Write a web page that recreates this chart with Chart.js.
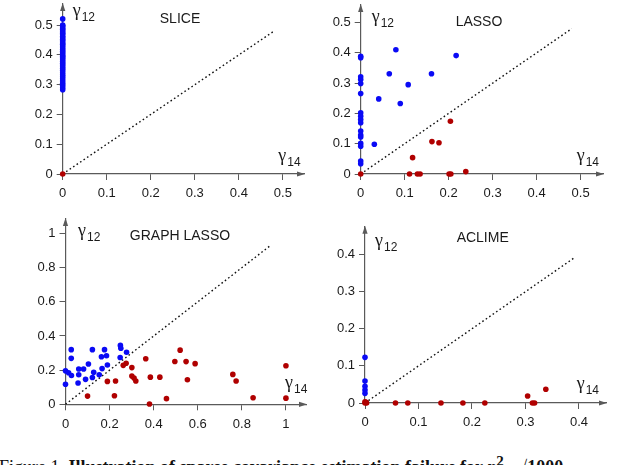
<!DOCTYPE html>
<html>
<head>
<meta charset="utf-8">
<script src="https://cdn.jsdelivr.net/npm/chart.js@4.4.1/dist/chart.umd.min.js"></script>
<style>
  html, body { margin: 0; padding: 0; background: #fff; width: 640px; height: 465px; overflow: hidden; }
  body { position: relative; }
  canvas { position: absolute; }
  #cap { position: absolute; left: -1px; top: 453px; white-space: nowrap; font: 18px "Liberation Serif"; color: #111; }
</style>
</head>
<body>
<canvas id="c1" width="320" height="215" style="left:0;top:0"></canvas>
<canvas id="c2" width="320" height="215" style="left:320px;top:0"></canvas>
<canvas id="c3" width="320" height="225" style="left:0;top:215px"></canvas>
<canvas id="c4" width="320" height="225" style="left:320px;top:215px"></canvas>
<div id="cap">Figure 1. <b>Illustration of sparse covariance estimation failure for <i>p</i><sup>2</sup> &nbsp; √1000</b></div>
<script>
// ── data: (gamma14, gamma12) pairs ──────────────────────────────────
const sliceBlueY = [0.521, 0.50, 0.497, 0.49, 0.486, 0.48, 0.474, 0.47, 0.463, 0.458, 0.452,
  0.447, 0.44, 0.436, 0.43, 0.424, 0.418, 0.412, 0.406, 0.40, 0.395, 0.39, 0.384, 0.378,
  0.372, 0.366, 0.36, 0.354, 0.348, 0.34, 0.333, 0.327, 0.32, 0.312, 0.305, 0.298, 0.29, 0.283];
const sliceRed = [[0, 0]];

const lassoBlue = [[0, 0.389], [0, 0.384], [0, 0.321], [0, 0.312], [0, 0.299], [0, 0.266],
  [0, 0.202], [0, 0.191], [0, 0.18], [0, 0.169], [0, 0.142], [0, 0.129], [0, 0.122],
  [0, 0.101], [0, 0.092], [0, 0.043], [0, 0.034], [0.031, 0.098], [0.041, 0.248],
  [0.065, 0.331], [0.08, 0.41], [0.09, 0.233], [0.108, 0.295], [0.161, 0.331], [0.217, 0.391]];
const lassoRed = [[0, 0], [0.111, 0], [0.118, 0.054], [0.129, 0], [0.135, 0], [0.162, 0.107],
  [0.178, 0.103], [0.201, 0], [0.205, 0], [0.204, 0.174], [0.239, 0.008]];

const glassoBlue = [[0, 0.117], [0, 0.196], [0.014, 0.185], [0.027, 0.169], [0.026, 0.32],
  [0.026, 0.269], [0.057, 0.125], [0.06, 0.207], [0.06, 0.173], [0.082, 0.207], [0.091, 0.146],
  [0.104, 0.236], [0.122, 0.32], [0.122, 0.157], [0.128, 0.188], [0.153, 0.173], [0.163, 0.278],
  [0.166, 0.209], [0.177, 0.32], [0.186, 0.284], [0.19, 0.23], [0.249, 0.345], [0.251, 0.328],
  [0.248, 0.274], [0.277, 0.305]];
const glassoRed = [[0.1, 0.048], [0.19, 0.134], [0.227, 0.136], [0.222, 0.05], [0.262, 0.228],
  [0.275, 0.24], [0.301, 0.215], [0.301, 0.165], [0.311, 0.154], [0.319, 0.136], [0.364, 0.267],
  [0.381, 0.002], [0.385, 0.159], [0.428, 0.159], [0.458, 0.033], [0.496, 0.251], [0.52, 0.317],
  [0.547, 0.25], [0.553, 0.144], [0.588, 0.238], [0.759, 0.175], [0.774, 0.136], [0.851, 0.038],
  [1.0, 0.226], [1.0, 0.036]];

const aclimeBlue = [[0, 0.123], [0, 0.059], [0, 0.045], [0, 0.035], [0, 0.026]];
const aclimeRed = [[0, 0], [0.002, 0.002], [0.003, 0], [0, 0.003], [0.057, 0], [0.08, 0],
  [0.142, 0], [0.183, 0], [0.224, 0], [0.304, 0.019], [0.313, 0], [0.317, 0], [0.338, 0.037]];

// end of the dotted y = x reference line in each panel
const diagEnds = [0.48, 0.48, 0.93, 0.39];

const ticksHalf = [0, 0.1, 0.2, 0.3, 0.4, 0.5];
const ticksOne = [0, 0.2, 0.4, 0.6, 0.8, 1];
const ticksAclime = [0, 0.1, 0.2, 0.3, 0.4];
const titles = ["SLICE", "LASSO", "GRAPH LASSO", "ACLIME"];

// ── styling / layout ─────────────────────────────────────────────────
const BLUE = "#0a0af5", RED = "#b00000", AXIS = "#5a5a5a", TXT = "#1a1a1a";

// canvas-relative plot box and label spots for each panel
const panels = [
  { id: "c1", h: 215, left: 62.7, right: 304, top: 1, bottom: 174, xmax: 0.548, ymax: 0.571,
    tx: 180, ty: 19, g12: [72.7, 15.5], g14: [278.3, 161] },
  { id: "c2", h: 215, left: 40.7, right: 283, top: 5, bottom: 174, xmax: 0.551, ymax: 0.558,
    tx: 159, ty: 22, g12: [51.7, 22], g14: [256.7, 161] },
  { id: "c3", h: 225, left: 65.5, right: 306, top: 1, bottom: 189.3, xmax: 1.091, ymax: 1.085,
    tx: 180, ty: 20.7, g12: [78, 21], g14: [285, 173] },
  { id: "c4", h: 225, left: 45, right: 286, top: 11.7, bottom: 188, xmax: 0.4505, ymax: 0.475,
    tx: 162.7, ty: 23.3, g12: [55, 31], g14: [256.7, 174] },
];

const toPts = arr => arr.map(([x, y]) => ({ x, y }));

const decor = {
  id: "decor",
  afterDraw(chart, args, o) {
    const { ctx, chartArea: a } = chart;
    ctx.save();
    ctx.fillStyle = AXIS;
    ctx.beginPath();
    ctx.moveTo(a.left, a.top - 1);
    ctx.lineTo(a.left - 2.6, a.top + 7);
    ctx.lineTo(a.left + 2.6, a.top + 7);
    ctx.closePath();
    ctx.fill();
    ctx.beginPath();
    ctx.moveTo(a.right + 1, a.bottom);
    ctx.lineTo(a.right - 7, a.bottom - 2.6);
    ctx.lineTo(a.right - 7, a.bottom + 2.6);
    ctx.closePath();
    ctx.fill();

    ctx.fillStyle = TXT;
    ctx.textAlign = "center";
    ctx.textBaseline = "middle";
    ctx.font = '14px "Liberation Sans"';
    ctx.fillText(o.title, o.tx, o.ty);

    ctx.textAlign = "left";
    ctx.textBaseline = "alphabetic";
    [[o.g12, "12"], [o.g14, "14"]].forEach(([p, sub]) => {
      ctx.font = '18px "Liberation Serif"';
      ctx.fillText("\u03b3", p[0], p[1]);
      ctx.font = '12px "Liberation Sans"';
      ctx.fillText(sub, p[0] + 9, p[1] + 5);
    });
    ctx.restore();
  },
};

function axis(max, tickVals, fitFn) {
  return {
    type: "linear",
    min: 0,
    max,
    afterBuildTicks: s => { s.ticks = tickVals.map(v => ({ value: v })); },
    afterFit: s => {
      fitFn(s);
      s.paddingTop = s.paddingBottom = s.paddingLeft = s.paddingRight = 0;
    },
    grid: { drawOnChartArea: false, drawTicks: true, tickLength: 6, color: AXIS, lineWidth: 1 },
    border: { display: true, color: AXIS, width: 1.2 },
    ticks: {
      color: TXT,
      font: { family: "Liberation Sans", size: 13 },
      padding: 4,
      autoSkip: false,
      maxRotation: 0,
      callback: v => String(v),
    },
  };
}

function makePanel(p, idx, blue, red, xt, yt) {
  const diag = diagEnds[idx];
  const pointDs = (data, color) => ({
    data: toPts(data),
    backgroundColor: color,
    borderWidth: 0,
    pointRadius: 2.8,
    clip: false,
  });
  const xs = axis(p.xmax, xt, s => { s.height = p.h - p.bottom; });
  xs.ticks.padding = 6;
  return new Chart(document.getElementById(p.id), {
    type: "scatter",
    data: {
      datasets: [
        pointDs(red, RED),
        pointDs(blue, BLUE),
        {
          data: [{ x: 0, y: 0 }, { x: diag, y: diag }],
          showLine: true,
          borderColor: "#111",
          borderWidth: 1.4,
          borderDash: [1.6, 2.6],
          pointRadius: 0,
          clip: false,
        },
      ],
    },
    options: {
      responsive: false,
      animation: false,
      devicePixelRatio: 1,
      layout: { padding: { left: 0, top: p.top, right: 320 - p.right, bottom: 0 } },
      plugins: {
        legend: { display: false },
        tooltip: { enabled: false },
        decor: { title: titles[idx], tx: p.tx, ty: p.ty, g12: p.g12, g14: p.g14 },
      },
      scales: {
        x: xs,
        y: axis(p.ymax, yt, s => { s.width = p.left; }),
      },
    },
    plugins: [decor],
  });
}

makePanel(panels[0], 0, sliceBlueY.map(y => [0, y]), sliceRed, ticksHalf, ticksHalf);
makePanel(panels[1], 1, lassoBlue, lassoRed, ticksHalf, ticksHalf);
makePanel(panels[2], 2, glassoBlue, glassoRed, ticksOne, ticksOne);
makePanel(panels[3], 3, aclimeBlue, aclimeRed, ticksAclime, ticksAclime);
</script>
</body>
</html>
